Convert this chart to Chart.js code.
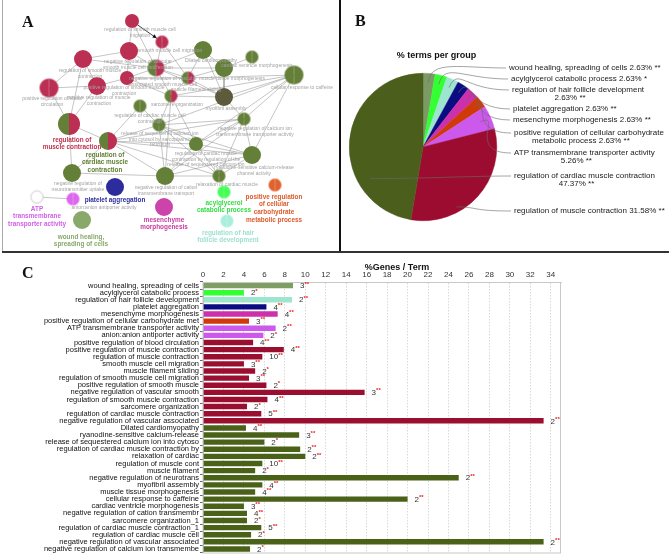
<!DOCTYPE html>
<html>
<head>
<meta charset="utf-8">
<script src="https://cdn.jsdelivr.net/npm/chart.js@4.4.1/dist/chart.umd.min.js"></script>
<style>
  html, body { margin: 0; padding: 0; background: #fff; }
  #wrap { position: relative; width: 669px; height: 558px; overflow: hidden; }
  canvas { position: absolute; }
  .tag { position: absolute; font: bold 16px/16px "Liberation Serif", "Times New Roman", serif; color: #111; }
  .rule { position: absolute; }
</style>
</head>
<body>
<div id="wrap">
  <canvas id="cA" width="338" height="251" style="left:0;top:0"></canvas>
  <canvas id="cB" width="329" height="251" style="left:340px;top:0"></canvas>
  <canvas id="cC" width="669" height="303" style="left:0;top:255px"></canvas>
  <div class="rule" style="left:2px;top:0;width:1px;height:252px;background:#aaa"></div>
  <div class="rule" style="left:339px;top:0;width:2px;height:252px;background:#111"></div>
  <div class="rule" style="left:2px;top:251px;width:667px;height:2px;background:#333"></div>
  <div class="tag" style="left:22px;top:14px">A</div>
  <div class="tag" style="left:355px;top:13px">B</div>
  <div class="tag" style="left:22px;top:265px">C</div>
</div>
<script>
// ---------- data ----------
// groups (pie B), in clockwise order
const groupNames = ['wound healing, spreading of cells', 'acylglycerol catabolic process',
  'regulation of hair follicle development', 'platelet aggregation', 'mesenchyme morphogenesis',
  'positive regulation of cellular carbohydrate metabolic process', 'ATP transmembrane transporter activity',
  'regulation of muscle contraction', 'regulation of cardiac muscle contraction'];
const groupPercent = [2.63, 2.63, 2.63, 2.63, 2.63, 2.63, 5.26, 31.58, 47.37];
const groupStars = ['**', '*', '**', '**', '**', '**', '**', '**', '**'];

// terms (bars C)
const termNames = [
  'wound healing, spreading of cells', 'acylglycerol catabolic process', 'regulation of hair follicle development',
  'platelet aggregation', 'mesenchyme morphogenesis', 'positive regulation of cellular carbohydrate met',
  'ATP transmembrane transporter activity', 'anion:anion antiporter activity',
  'positive regulation of blood circulation', 'positive regulation of muscle contraction',
  'regulation of muscle contraction', 'smooth muscle cell migration', 'muscle filament sliding',
  'regulation of smooth muscle cell migration', 'positive regulation of smooth muscle',
  'negative regulation of vascular smooth', 'regulation of smooth muscle contraction', 'sarcomere organization',
  'regulation of cardiac muscle contraction', 'negative regulation of vascular associated',
  'Dilated cardiomyopathy', 'ryanodine-sensitive calcium-release', 'release of sequestered calcium ion into cytoso',
  'regulation of cardiac muscle contraction by', 'relaxation of cardiac', 'regulation of muscle cont',
  'muscle filament', 'negative regulation of neurotrans', 'myofibril assembly', 'muscle tissue morphogenesis',
  'cellular response to caffeine', 'cardiac ventricle morphogenesis', 'negative regulation of cation transmembr',
  'sarcomere organization_1', 'regulation of cardiac muscle contraction_1', 'regulation of cardiac muscle cell',
  'negative regulation of vascular associated', 'negative regulation of calcium ion transmembe'];
const termPercent = [8.8, 4.0, 8.7, 6.2, 7.3, 4.5, 7.1, 5.9, 4.9, 7.9, 5.8, 4.0, 5.1, 4.5, 6.2, 15.8, 6.3, 4.3, 5.7, 33.3,
  4.2, 9.4, 6.0, 9.5, 10.0, 5.8, 5.1, 25.0, 5.8, 5.1, 20.0, 4.0, 4.3, 4.3, 5.7, 4.7, 33.3, 4.6];
const termGenes = [3, 2, 2, 4, 4, 3, 2, 2, 4, 4, 10, 3, 2, 3, 2, 3, 4, 2, 5, 2,
  4, 3, 2, 2, 2, 10, 2, 2, 4, 4, 2, 3, 4, 2, 5, 2, 2, 2];
const termStars = ['**', '*', '**', '**', '**', '**', '**', '*', '**', '**', '**', '**', '*', '**', '*', '**', '**', '*', '**', '**',
  '**', '**', '*', '**', '**', '**', '*', '**', '**', '**', '**', '**', '**', '*', '**', '*', '**', '*'];
const termGroup = [0, 1, 2, 3, 4, 5, 6, 6, 7, 7, 7, 7, 7, 7, 7, 7, 7, 7, 7, 7,
  8, 8, 8, 8, 8, 8, 8, 8, 8, 8, 8, 8, 8, 8, 8, 8, 8, 8];
const xTicks = { min: 0, max: 35, step: 2 };

// network (A): layout coordinates, node size, group of left / right half
const nodeX = [132, 162, 129, 83, 156, 203, 252, 224, 294, 127, 188, 49, 97, 171, 224, 140, 69, 159, 244, 108, 196, 252,
  72, 165, 219, 115, 275, 224, 37, 73, 164, 227, 82];
const nodeY = [21, 42, 51, 59, 68, 50, 57, 68, 75, 78, 78, 88, 86, 96, 97, 106, 124, 125, 119, 141, 144, 155,
  173, 176, 176, 187, 185, 192, 197, 199, 207, 221, 220];
const nodeSize = [7, 6.5, 9, 9, 8.5, 9, 6.5, 9, 9.5, 7, 6.5, 9.5, 9, 6.5, 9, 6.5, 11, 6.5, 6.5, 9, 7, 9,
  9, 9, 6.5, 9, 6.5, 6.5, 6.5, 6.5, 9, 6.5, 9];
const nodeGroupL = [7, 7, 7, 7, 8, 8, 8, 8, 8, 7, 8, 7, 7, 8, 9, 8, 8, 8, 8, 8, 8, 8, 8, 8, 8, 3, 5, 1, 10, 6, 4, 2, 0];
const nodeGroupR = [7, 7, 7, 7, 7, 8, 8, 8, 8, 7, 7, 7, 7, 7, 9, 8, 7, 8, 8, 7, 8, 8, 8, 8, 8, 3, 5, 1, 10, 6, 4, 2, 0];
const edges = [[0, 2], [0, 4], [1, 4], [1, 10], [2, 3], [2, 4], [2, 9], [3, 11], [3, 12], [3, 16], [3, 4],
  [4, 9], [4, 10], [4, 13], [4, 7], [4, 14], [4, 5], [5, 7], [5, 10], [5, 14], [6, 7], [7, 14], [7, 10],
  [8, 13], [8, 14], [8, 18], [8, 21], [8, 20], [8, 10], [8, 17], [9, 12], [9, 10], [9, 13], [10, 13], [10, 14],
  [11, 12], [11, 16], [12, 16], [13, 14], [13, 20], [13, 23], [13, 17], [14, 18], [15, 19], [15, 17],
  [16, 19], [16, 22], [17, 19], [17, 18], [17, 20], [17, 21], [17, 23], [17, 24], [18, 19], [18, 20], [18, 21],
  [18, 23], [18, 24], [19, 20], [19, 21], [19, 23], [19, 24], [19, 22], [20, 23], [20, 24], [20, 21],
  [21, 23], [21, 24], [22, 23], [23, 24], [28, 29]];
const arrowEdge = [0, 1];

// ---------- styles ----------
const FONT = '"Liberation Sans", Arial, sans-serif';
const barColors = ['#7f9f62', '#33ff33', '#9ee5d0', '#0b0b82', '#cc30aa', '#cf3a08', '#cc58ec', '#9a0e30', '#4a6118'];
const pieColors = ['#7c9a64', '#33ff33', '#9ee5d0', '#0b0b82', '#cc30aa', '#d03a08', '#cc58ec', '#9c0c30', '#4b5e1c'];
const nodeColors = ['#89a96b', '#44ff55', '#aaeedd', '#2c2c9c', '#cc44aa', '#e0622e', '#dd66ee', '#bb2f52',
  '#647f38', '#5c5b3c', '#ffffff'];

const grayLabels = [
  [['regulation of smooth muscle cell', 'migration'], 140, 30],
  [['smooth muscle cell migration'], 170, 51],
  [['negative regulation of vascular', 'smooth muscle cell proliferation'], 138, 62],
  [['Dilated cardiomyopathy'], 211, 61],
  [['cardiac ventricle morphogenesis'], 257, 66],
  [['regulation of smooth muscle', 'contraction'], 90, 71],
  [['negative regulation of vascular', 'associated smooth muscle cell'], 163, 79],
  [['muscle tissue morphogenesis'], 232, 79],
  [['cellular response to caffeine'], 302, 88],
  [['positive regulation of smooth muscle', 'contraction'], 124, 88],
  [['muscle filament sliding'], 196, 90],
  [['positive regulation of blood', 'circulation'], 52, 99],
  [['positive regulation of muscle', 'contraction'], 99, 98],
  [['sarcomere organization'], 177, 105],
  [['myofibril assembly'], 226, 109],
  [['regulation of cardiac muscle cell', 'contraction'], 150, 116],
  [['negative regulation of calcium ion', 'transmembrane transporter activity'], 255, 129],
  [['release of sequestered calcium ion', 'into cytosol by sarcoplasmic', 'reticulum'], 160, 134],
  [['regulation of cardiac muscle', 'contraction by regulation of the', 'release of sequestered calcium ion'], 206, 154],
  [['ryanodine-sensitive calcium-release', 'channel activity'], 254, 168],
  [['negative regulation of', 'neurotransmitter uptake'], 78, 184],
  [['negative regulation of cation', 'transmembrane transport'], 166, 188],
  [['relaxation of cardiac muscle'], 227, 185],
  [['anion:anion antiporter activity'], 104, 208]
];
const boldLabels = [
  [['regulation of', 'muscle contraction'], 72, 140, '#c0304f'],
  [['regulation of', 'cardiac muscle', 'contraction'], 105, 155, '#5f7f2f'],
  [['platelet aggregation'], 115, 200, '#2b2b9b'],
  [['ATP', 'transmembrane', 'transporter activity'], 37, 209, '#d35ee8'],
  [['mesenchyme', 'morphogenesis'], 164, 220, '#c83a9e'],
  [['acylglycerol', 'catabolic process'], 224, 203, '#33dd44'],
  [['positive regulation', 'of cellular', 'carbohydrate', 'metabolic process'], 274, 197, '#dd5a2a'],
  [['wound healing,', 'spreading of cells'], 81, 237, '#88a86a'],
  [['regulation of hair', 'follicle development'], 228, 233, '#9fe0d2']
];

// ---------- A: network ----------
function nodeImage(r, cl, cr, outline) {
  const cv = document.createElement('canvas');
  const s = Math.ceil(2 * r + 2);
  cv.width = s; cv.height = s;
  const g = cv.getContext('2d');
  const m = s / 2;
  g.fillStyle = cl;
  g.beginPath(); g.arc(m, m, r, Math.PI / 2, Math.PI * 1.5); g.closePath(); g.fill();
  g.fillStyle = cr;
  g.beginPath(); g.arc(m, m, r, -Math.PI / 2, Math.PI / 2); g.closePath(); g.fill();
  if (outline) {
    g.strokeStyle = '#bbb'; g.lineWidth = 0.8;
    g.beginPath(); g.arc(m, m, r - 0.4, 0, Math.PI * 2); g.stroke();
  }
  return cv;
}
const nodeImgs = nodeX.map((_, i) => nodeImage(nodeSize[i], nodeColors[nodeGroupL[i]], nodeColors[nodeGroupR[i]], nodeGroupL[i] === 10));

const edgeSets = edges.map(([a, b]) => ({
  data: [{ x: nodeX[a], y: nodeY[a] }, { x: nodeX[b], y: nodeY[b] }],
  showLine: true, pointRadius: 0, borderColor: 'rgba(115,115,115,0.6)', borderWidth: 0.7, order: 2
}));

const netText = {
  id: 'netText',
  afterDatasetsDraw(chart) {
    const { ctx, scales: { x, y } } = chart;
    // arrow
    const [a, b] = arrowEdge;
    const x0 = x.getPixelForValue(nodeX[a]), y0 = y.getPixelForValue(nodeY[a]);
    const x1 = x.getPixelForValue(nodeX[b]), y1 = y.getPixelForValue(nodeY[b]);
    const d = Math.hypot(x1 - x0, y1 - y0), ux = (x1 - x0) / d, uy = (y1 - y0) / d;
    const sx = x0 + ux * nodeSize[a], sy = y0 + uy * nodeSize[a];
    const tx = x1 - ux * nodeSize[b], ty = y1 - uy * nodeSize[b];
    ctx.save();
    ctx.strokeStyle = '#111'; ctx.fillStyle = '#111'; ctx.lineWidth = 0.8;
    ctx.beginPath(); ctx.moveTo(sx, sy); ctx.lineTo(tx, ty); ctx.stroke();
    ctx.beginPath(); ctx.moveTo(tx, ty);
    ctx.lineTo(tx - ux * 4 - uy * 2, ty - uy * 4 + ux * 2);
    ctx.lineTo(tx - ux * 4 + uy * 2, ty - uy * 4 - ux * 2);
    ctx.closePath(); ctx.fill();

    ctx.textAlign = 'center'; ctx.textBaseline = 'middle';
    ctx.font = '5px ' + FONT; ctx.fillStyle = '#a3a3a3';
    grayLabels.forEach(([lines, lx, ly]) => {
      lines.forEach((t, k) => ctx.fillText(t, x.getPixelForValue(lx), y.getPixelForValue(ly) + k * 5.3));
    });
    ctx.font = 'bold 6.4px ' + FONT;
    boldLabels.forEach(([lines, lx, ly, col]) => {
      ctx.fillStyle = col;
      lines.forEach((t, k) => ctx.fillText(t, x.getPixelForValue(lx), y.getPixelForValue(ly) + k * 7.6));
    });
    ctx.restore();
  }
};

new Chart(document.getElementById('cA'), {
  type: 'scatter',
  data: {
    datasets: [{
      data: nodeX.map((v, i) => ({ x: v, y: nodeY[i] })),
      pointStyle: nodeImgs, pointRadius: nodeSize, order: 0
    }, ...edgeSets]
  },
  options: {
    responsive: false, animation: false, events: [],
    layout: { padding: 0, autoPadding: false },
    plugins: { legend: { display: false }, tooltip: { enabled: false } },
    scales: {
      x: { type: 'linear', min: 0, max: 338, display: false },
      y: { type: 'linear', min: 0, max: 251, reverse: true, display: false }
    }
  },
  plugins: [netText]
});

// ---------- B: pie ----------
const pieLabelPos = [[169, 68], [171, 79], [172, 90], [173, 109], [173, 120], [174, 133], [174, 153], [174, 211], [174, 176]];
const pieBreak = [0, 0, 5, 0, 0, 5, 4, 0, 5];
const pieAnchor = [[0.5, 0.88], [0.5, 0.88], [0.5, 0.88], [0.5, 0.88], [0.5, 0.88], [0.5, 0.88], [0.5, 0.85], [0.66, 0.93], [0.29, 0.83]];

const pieText = {
  id: 'pieText',
  afterDraw(chart) {
    const ctx = chart.ctx;
    const meta = chart.getDatasetMeta(0);
    ctx.save();
    ctx.textBaseline = 'middle';
    ctx.textAlign = 'center';
    ctx.fillStyle = '#111';
    ctx.font = 'bold 9px ' + FONT;
    ctx.fillText('% terms per group', 96.5, 56);
    ctx.font = '8px ' + FONT;
    ctx.strokeStyle = '#6a6a6a';
    ctx.lineWidth = 0.6;
    meta.data.forEach((arc, i) => {
      const p = arc.getProps(['x', 'y', 'startAngle', 'endAngle', 'outerRadius']);
      const [fa, fr] = pieAnchor[i];
      const ang = p.startAngle + (p.endAngle - p.startAngle) * fa;
      const ax = p.x + Math.cos(ang) * p.outerRadius * fr;
      const ay = p.y + Math.sin(ang) * p.outerRadius * fr;
      const [lx, ly] = pieLabelPos[i];
      const ex = lx - 3, ey = ly;
      ctx.beginPath();
      ctx.moveTo(ax, ay);
      if (i < 7) {
        const cx1 = p.x + Math.cos(ang) * (p.outerRadius + 14), cy1 = p.y + Math.sin(ang) * (p.outerRadius + 14);
        ctx.bezierCurveTo(cx1, cy1, ex - 45, ey, ex, ey);
      } else {
        ctx.bezierCurveTo(ax + (ex - ax) * 0.4, ay, ex - 40, ey, ex, ey);
      }
      ctx.stroke();

      const words = (groupNames[i] + ' ' + groupPercent[i].toFixed(2) + '% ' + groupStars[i]).split(' ');
      const lines = pieBreak[i] ? [words.slice(0, pieBreak[i]).join(' '), words.slice(pieBreak[i]).join(' ')] : [words.join(' ')];
      ctx.fillStyle = '#1a1a1a';
      ctx.textAlign = 'left';
      ctx.fillText(lines[0], lx, ly);
      if (lines[1]) {
        const w1 = ctx.measureText(lines[0]).width;
        ctx.textAlign = 'center';
        ctx.fillText(lines[1], lx + w1 / 2 - 8, ly + 7.8);
      }
    });
    ctx.restore();
  }
};

new Chart(document.getElementById('cB'), {
  type: 'pie',
  data: {
    labels: groupNames,
    datasets: [{ data: groupPercent, backgroundColor: pieColors, borderColor: pieColors, borderWidth: 0.5, hoverOffset: 0 }]
  },
  options: {
    responsive: false, animation: false, events: [],
    layout: { padding: { left: 9, right: 172, top: 73, bottom: 30 } },
    plugins: { legend: { display: false }, tooltip: { enabled: false } }
  },
  plugins: [pieText]
});

// ---------- C: bars ----------
const barText = {
  id: 'barText',
  afterDatasetsDraw(chart) {
    const { ctx, chartArea: a } = chart;
    ctx.save();
    ctx.strokeStyle = '#c8c8c8'; ctx.lineWidth = 1;
    ctx.strokeRect(a.left, a.top + 0.5, a.right - a.left - 0.5, a.bottom - a.top);
    ctx.fillStyle = '#111'; ctx.textAlign = 'center'; ctx.textBaseline = 'middle';
    ctx.font = 'bold 9px ' + FONT;
    ctx.fillText('%Genes / Term', 397, 13);
    ctx.textAlign = 'left';
    chart.getDatasetMeta(0).data.forEach((bar, i) => {
      const x = bar.x + 7;
      ctx.font = '8px ' + FONT; ctx.fillStyle = '#333';
      const s = String(termGenes[i]);
      ctx.fillText(s, x, bar.y + 0.5);
      const w = ctx.measureText(s).width;
      ctx.font = 'bold 6px ' + FONT; ctx.fillStyle = '#ee1c1c';
      ctx.fillText(termStars[i], x + w, bar.y - 1.5);
    });
    ctx.restore();
  }
};

new Chart(document.getElementById('cC'), {
  type: 'bar',
  data: {
    labels: termNames,
    datasets: [{
      data: termPercent,
      backgroundColor: termGroup.map(g => barColors[g]),
      borderWidth: 0, categoryPercentage: 0.8, barPercentage: 0.95
    }]
  },
  options: {
    indexAxis: 'y', responsive: false, animation: false, events: [],
    layout: { padding: { left: 0, right: 108, top: 0, bottom: 3 } },
    plugins: { legend: { display: false }, tooltip: { enabled: false } },
    scales: {
      x: {
        position: 'top', min: xTicks.min, max: xTicks.max,
        ticks: { stepSize: xTicks.step, maxTicksLimit: 40, includeBounds: false, autoSkip: false,
          font: { size: 8, family: FONT }, color: '#333', padding: 2, maxRotation: 0 },
        grid: { color: '#cfcfcf', lineWidth: 0.8, drawTicks: false },
        border: { display: true, color: '#c8c8c8', dash: [1.5, 1.5] },
        afterFit: s => { s.height = 27; }
      },
      y: {
        ticks: { autoSkip: false, font: { size: 7.5, family: FONT }, color: '#111', padding: 1 },
        grid: { drawOnChartArea: false, tickLength: 3, color: '#666' },
        border: { color: '#aaa' },
        afterFit: s => { s.width = 203; }
      }
    }
  },
  plugins: [barText]
});
</script>
</body>
</html>
